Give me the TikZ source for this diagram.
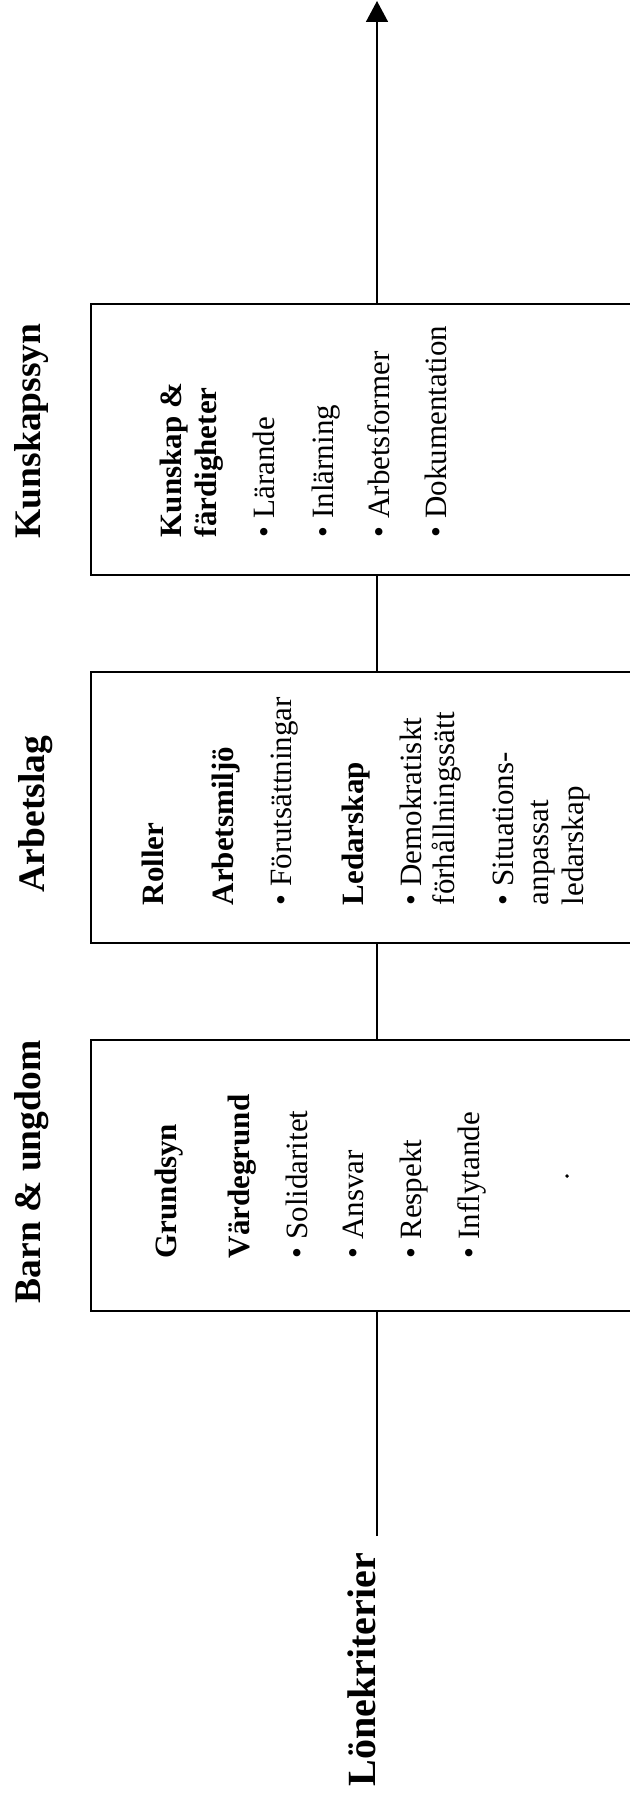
\documentclass[tikz,border=0pt]{standalone}
\usepackage{fontspec}
\setmainfont{Liberation Serif}
\usetikzlibrary{arrows.meta}

\newcommand\bodyfont{\fontsize{31}{35}\selectfont}
\newcommand\headfont{\fontsize{37.5}{40}\selectfont\bfseries}

\tikzset{
  area/.style={rectangle, draw, minimum width=572pt, minimum height=271pt},
  item/.style={rotate=90, anchor=base west, inner sep=0pt, font=\bodyfont},
  head/.style={rotate=90, anchor=base west, inner sep=0pt, font=\headfont}
}

\begin{document}
\begin{tikzpicture}[
                    x=1pt, y=-1pt,
                    line width=1.6pt,
                    >={Triangle[length=21pt,width=22pt]}
                   ]
\useasboundingbox (0,0) rectangle (629,1798);
% Blocks
\node [area] (kbox) at (377,439.5) {};
\node [area] (abox) at (377,807.5) {};
\node [area] (bbox) at (377,1175.5) {};
\coordinate (tip) at (377,1);
\coordinate (root) at (377,1536);

% Headings
\node [head] (khead) at (40,539) {Kunskapssyn};
\node [head] (ahead) at (44,893) {Arbetslag};
\node [head] (bhead) at (40,1304) {Barn \& ungdom};
\node [head, font=\fontsize{40}{44}\selectfont\bfseries] (lhead) at (375,1787) {Lönekriterier};

% Box contents
\foreach \bx/\txt [count=\i] in {181/{\textbf{Kunskap \&}}, 216/{\textbf{färdigheter}},
    274/{\textbullet{} Lärande}, 333/{\textbullet{} Inlärning},
    389/{\textbullet{} Arbetsformer}, 446/{\textbullet{} Dokumentation}}
  \node [item] (k\i) at (\bx,538) {\txt};
\foreach \bx/\txt [count=\i] in {163/{\textbf{Roller}}, 233/{\textbf{Arbetsmiljö}},
    291/{\textbullet{} Förutsättningar}, 363/{\textbf{Ledarskap}},
    421/{\textbullet{} Demokratiskt}, 454/{förhållningssätt},
    513/{\textbullet{} Situations-}, 548/{anpassat}, 583/{ledarskap}}
  \node [item] (a\i) at (\bx,906) {\txt};
\foreach \bx/\txt [count=\i] in {176/{\textbf{Grundsyn}}, 249/{\textbf{Värdegrund}},
    307/{\textbullet{} Solidaritet}, 363/{\textbullet{} Ansvar},
    421/{\textbullet{} Respekt}, 479/{\textbullet{} Inflytande}}
  \node [item] (b\i) at (\bx,1259) {\txt};
\node [circle, fill, inner sep=1.4pt] (dot) at (567,1176) {};

% Connections
\draw [->] (kbox.north) -- (tip);
\draw (abox.north) -- (kbox.south);
\draw (bbox.north) -- (abox.south);
\draw (root) -- (bbox.south);
\end{tikzpicture}
\end{document}
